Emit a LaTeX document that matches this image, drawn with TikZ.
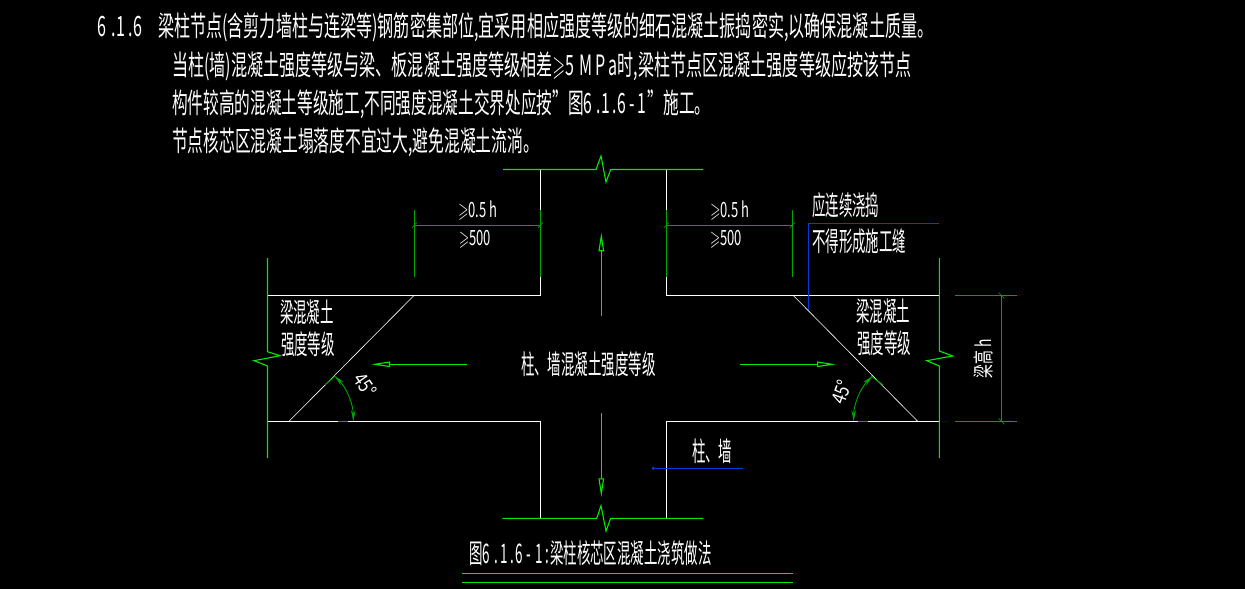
\documentclass[tikz,border=0pt]{standalone}
\usepackage{amssymb}
\usepackage{fontspec}
\newfontfamily\cjk{Noto Sans CJK SC}
\usetikzlibrary{arrows.meta, calc}
\definecolor{brightgreen}{RGB}{0,235,0}
\definecolor{dimgreen}{RGB}{0,165,0}
\definecolor{leaderblue}{RGB}{0,60,225}
\newcommand{\clause}{6\hspace{9pt}.\hspace{2pt}1\hspace{4pt}.\hspace{2pt}6}
\tikzset{
x=1pt, y=-1pt, % one unit is one pixel of the drawing
outline/.style={white, line width=1.1pt}, % concrete edges
slope/.style={white, line width=.6pt}, % the 45 degree joints
breakline/.style={brightgreen, line width=1.1pt},
dimline/.style={dimgreen, line width=.9pt},
leader/.style={leaderblue, line width=1.1pt},
flowarrow/.style={brightgreen, line width=1.1pt, -{Triangle[open, fill=black, length=19pt, width=5.5pt]}},
anglearc/.style={dimline, {Stealth[length=11pt, width=4.5pt]}-{Stealth[length=11pt, width=4.5pt]}},
bodytext/.style={white, inner sep=0pt, anchor=west, font=\cjk\fontsize{28}{28}\selectfont, xscale=.574},
labeltext/.style={white, inner sep=0pt, anchor=west, font=\cjk\fontsize{27}{27}\selectfont, xscale=.498},
smalltext/.style={white, inner sep=0pt, font=\cjk\fontsize{21}{21}\selectfont, xscale=.62},
}
\begin{document}
\begin{tikzpicture}
    \path[fill=black, use as bounding box] (0,0) rectangle (1245,589);
    % text above the drawing
    \node[bodytext] (num) at (97,27) {\clause};
    \node[bodytext] (line1) at (158,27) {梁柱节点(含剪力墙柱与连梁等)钢筋密集部位,宜采用相应强度等级的细石混凝土振捣密实,以确保混凝土质量。};
    \node[bodytext] (line2) at (172,66) {当柱(墙)混凝土强度等级与梁、板混凝土强度等级相差$\geqslant$5\hspace{10pt}M\hspace{5pt}P\hspace{5pt}a时,梁柱节点区混凝土强度等级应按该节点};
    \node[bodytext, xscale=.975] (line3) at (172,104) {构件较高的混凝土等级施工,不同强度混凝土交界处应按”图6\hspace{7pt}.\hspace{2pt}1\hspace{3pt}.\hspace{2pt}6\hspace{5pt}-\hspace{5pt}1\hspace{3pt}”施工。};
    \node[bodytext, xscale=.98] (line4) at (172,142) {节点核芯区混凝土塌落度不宜过大,避免混凝土流淌。};
    % corners of the joint
    \coordinate (tl) at (540.5,295.5);
    \coordinate (tr) at (666.3,295.5);
    \coordinate (bl) at (540.5,421.3);
    \coordinate (br) at (666.3,421.3);
    % concrete edges
    \draw[outline] (540.5,169.5) -- (tl) -- (267.5,295.5);
    \draw[outline] (666.3,169.5) -- (tr) -- (939.3,295.5);
    \draw[outline] (267.5,421.3) -- (bl) -- (540.5,518.3);
    \draw[outline] (939.3,421.3) -- (br) -- (666.3,518.3);
    \draw[slope] (414,295.5) -- (289,421.3);
    \draw[slope] (793.3,295.5) -- (917.7,421.3);
    % break lines
    \draw[breakline] (503,169.5) -- (596,169.5) -- (601,156) -- (606,182) -- (610.7,169.5) -- (703,169.5);
    \draw[breakline] (502.3,518.3) -- (596.7,518.3) -- (601,505.7) -- (606,531) -- (610.7,518.3) -- (703.3,518.3);
    \draw[breakline] (267.5,258) -- (267.5,351.7) -- (280,355.7) -- (254,360.7) -- (267.5,366) -- (267.5,458);
    \draw[breakline] (939.3,258) -- (939.3,351) -- (952.7,356) -- (926.7,360.7) -- (939.3,366) -- (939.3,458);
    % dimensions
    \draw[dimline] (414.3,210) -- (414.3,276.7);
    \draw[dimline] (540.5,210) -- (540.5,276.7);
    \draw[dimline] (666.3,210) -- (666.3,276.7);
    \draw[dimline] (792.3,210) -- (792.3,276.7);
    \draw[dimline] (414.3,225.3) -- (540.5,225.3);
    \draw[dimline] (666.3,225.3) -- (792.3,225.3);
    \draw[dimline] (955,295.5) -- (1016.7,295.5);
    \draw[dimline] (955,421.3) -- (1016.7,421.3);
    \draw[dimline] (1001.7,295.5) -- (1001.7,421.3);
    \foreach \tick in {414.3,540.5,666.3,792.3}
        \draw[dimgreen, line width=.6pt] (\tick-2.5,228) -- (\tick+2.5,222.5);
    \foreach \tick in {295.5,421.3}
        \draw[dimgreen, line width=.6pt] (998.5,\tick-3) -- (1004.5,\tick+3);
    \node[smalltext] (minhl) at (478,211) {$\geqslant$0.5 h};
    \node[smalltext] (minl) at (475,239) {$\geqslant$500};
    \node[smalltext] (minhr) at (730,211) {$\geqslant$0.5 h};
    \node[smalltext] (minr) at (726,239) {$\geqslant$500};
    \node[white, inner sep=0pt, font=\cjk\fontsize{21}{21}\selectfont, rotate=90, xscale=.66] (beamh) at (983,358.7) {梁高\hspace{5pt}h};
    % angles
    \draw[anglearc] (353.3,421.3) arc[start angle=0, end angle=-45, radius=64.3];
    \draw[anglearc] (853.7,421.3) arc[start angle=180, end angle=225, radius=64];
    \draw[dimline] (338,421.3) -- (348,421.3);
    \draw[dimline] (325,385) -- (335,376);
    \draw[dimline] (858,421.3) -- (868,421.3);
    \draw[dimline] (871,376) -- (883,385);
    \node[white, inner sep=0pt, font=\cjk\fontsize{20}{20}\selectfont, rotate=-55, xscale=.8] (anglel) at (365,385) {45°};
    \node[white, inner sep=0pt, font=\cjk\fontsize{20}{20}\selectfont, rotate=70, xscale=.8] (angler) at (841,392) {45°};
    % pouring directions
    \coordinate (upstart) at (601.3,315.7);
    \coordinate (uptip) at (601.3,232.3);
    \coordinate (leftstart) at (466.7,364.3);
    \coordinate (lefttip) at (371,364.3);
    \coordinate (rightstart) at (740,364.3);
    \coordinate (righttip) at (836,364.3);
    \coordinate (downstart) at (601.3,413);
    \coordinate (downtip) at (601.3,497.3);
    \draw[flowarrow] (upstart) -- (uptip);
    \draw[flowarrow] (leftstart) -- (lefttip);
    \draw[flowarrow] (rightstart) -- (righttip);
    \draw[flowarrow] (downstart) -- (downtip);
    % leaders
    \draw[leader] (808.3,310) -- (808.3,223.3) -- (939,223.3);
    \draw[leader] (742.7,468.3) -- (653.3,468.3);
    \draw[leader, line width=.7pt] (653.3,468.3) circle[radius=1.2];
    % labels
    \node[labeltext] (pour) at (812,205) {应连续浇捣};
    \node[labeltext] (nojoint) at (812,241) {不得形成施工缝};
    \node[labeltext] (beaml) at (280,312) {梁混凝土};
    \node[labeltext] (gradel) at (281,344) {强度等级};
    \node[labeltext] (beamr) at (856,311) {梁混凝土};
    \node[labeltext] (grader) at (857,343) {强度等级};
    \node[labeltext] (column) at (521,364) {柱、墙混凝土强度等级};
    \node[labeltext] (wall) at (692,451) {柱、墙};
    \node[labeltext] (caption) at (469,553) {图6\hspace{10pt}.\hspace{3pt}1\hspace{5pt}.\hspace{3pt}6\hspace{8pt}-\hspace{8pt}1\hspace{5pt}:\hspace{2pt}梁柱核芯区混凝土浇筑做法};
    \draw[breakline] (462.3,573.3) -- (792.7,573.3);
    \draw[breakline] (462.3,582.3) -- (792.7,582.3);
\end{tikzpicture}
\end{document}
